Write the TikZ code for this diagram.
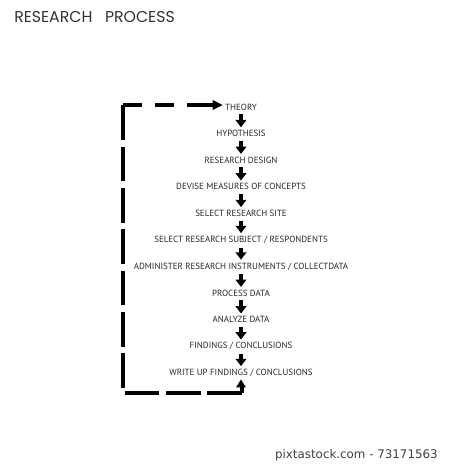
\documentclass[tikz,border=0pt]{standalone}
\usepackage{fontspec}
\setmainfont{PT Sans}
\newfontfamily\titlefont{Poppins}
\newfontfamily\wmfont{DejaVu Sans}
\usetikzlibrary{arrows.meta}
\begin{document}
\begin{tikzpicture}[x=0.75pt,y=-0.75pt,
  stepnode/.style={inner sep=1.8pt, font=\fontsize{6.7}{7}\selectfont, text=black!85},
  flowarrow/.style={line width=3pt, -{Triangle[width=8pt,length=5.5pt]}, shorten <=1pt, shorten >=0.3pt},
  loopline/.style={line width=2.4pt},
  headfill/.style={fill=black}]
\useasboundingbox (0,0) rectangle (450,469);
\fill[white] (0,0) rectangle (450,469);
\node[anchor=west, inner sep=0pt, font=\titlefont\fontsize{11.8}{13}\selectfont, text=black!80] (title) at (14,17) {RESEARCH\ \ \ PROCESS};
\node[stepnode] (s1) at (241,107) {THEORY};
\node[stepnode] (s2) at (241,133.6) {HYPOTHESIS};
\node[stepnode] (s3) at (241,160.2) {RESEARCH DESIGN};
\node[stepnode] (s4) at (241,186.8) {DEVISE MEASURES OF CONCEPTS};
\node[stepnode] (s5) at (241,213.4) {SELECT RESEARCH SITE};
\node[stepnode] (s6) at (241,240) {SELECT RESEARCH SUBJECT / RESPONDENTS};
\node[stepnode] (s7) at (241,266.6) {ADMINISTER RESEARCH INSTRUMENTS / COLLECTDATA};
\node[stepnode] (s8) at (241,293.2) {PROCESS DATA};
\node[stepnode] (s9) at (241,319.8) {ANALYZE DATA};
\node[stepnode] (s10) at (241,346.4) {FINDINGS / CONCLUSIONS};
\node[stepnode] (s11) at (241,373) {WRITE UP FINDINGS / CONCLUSIONS};
\foreach \a/\b in {s1/s2,s2/s3,s3/s4,s4/s5,s5/s6,s6/s7,s7/s8,s8/s9,s9/s10,s10/s11}
  \draw[flowarrow] (\a.south) -- (\b.north);
% feedback loop
\coordinate (c1) at (242,393);
\coordinate (c2) at (123,393);
\coordinate (c3) at (123,105);
\coordinate (c4) at (188,105);
% bottom and up into the last step
\draw[loopline, dash pattern=on 26pt off 5pt] (c1) -- (c2) -- (c3);
\draw[loopline] (c1) -- ++(0,-9);
\fill[headfill] (s11.south) -- ++(-5,8) -- ++(10,0) -- cycle;
% top back to the first step
\draw[loopline, dash pattern=on 14.25pt off 9.75pt] (c3) -- (c4);
\draw[loopline] (c4) -- ([xshift=-5pt]s1.west |- c4);
\fill[headfill] (s1.west |- c4) -- ++(-10,-5) -- ++(0,10) -- cycle;
\node[anchor=east, inner sep=0pt, font=\wmfont\fontsize{8.9}{10}\selectfont, text=black!75] (wm) at (438,455) {pixtastock.com - 73171563};
\end{tikzpicture}
\end{document}
